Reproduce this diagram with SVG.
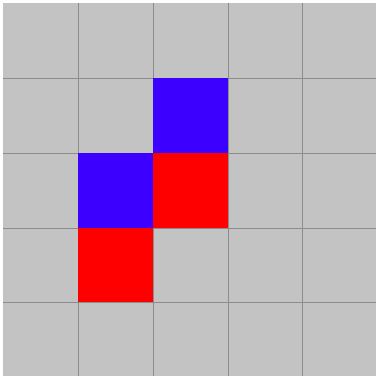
<svg xmlns="http://www.w3.org/2000/svg" width="376" height="376" viewBox="0 0 376 376">
<style>
.bg{fill:#c3c3c3}
.ln{stroke:#8c8c8c;stroke-width:1}
.blue{fill:#3c00ff}
.red{fill:#ff0000}
</style>
<rect width="376" height="376" fill="#ffffff"/>
<rect class="bg" x="3" y="3" width="373" height="373"/>
<g id="gridlines">
<line class="ln" x1="78.5" y1="3" x2="78.5" y2="376"/>
<line class="ln" x1="153.5" y1="3" x2="153.5" y2="376"/>
<line class="ln" x1="228.5" y1="3" x2="228.5" y2="376"/>
<line class="ln" x1="302.5" y1="3" x2="302.5" y2="376"/>
<line class="ln" x1="3" y1="78.5" x2="376" y2="78.5"/>
<line class="ln" x1="3" y1="153.5" x2="376" y2="153.5"/>
<line class="ln" x1="3" y1="228.5" x2="376" y2="228.5"/>
<line class="ln" x1="3" y1="302.5" x2="376" y2="302.5"/>
</g>
<g id="cell-blue-1"><rect class="blue" x="153" y="78" width="75" height="75"/></g>
<g id="cell-blue-2"><rect class="blue" x="78" y="153" width="75" height="75"/></g>
<g id="cell-red-1"><rect class="red" x="153" y="153" width="75" height="75"/></g>
<g id="cell-red-2"><rect class="red" x="78" y="228" width="75" height="74"/></g>
</svg>
